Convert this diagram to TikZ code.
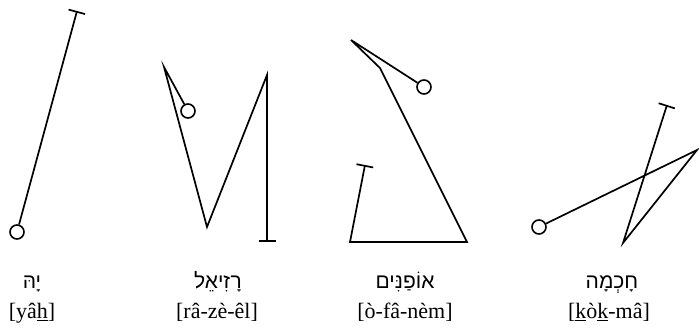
\documentclass[tikz,border=0pt]{standalone}
\usepackage{fontspec}
\setmainfont{Liberation Serif}
\newfontfamily\hebfont[Script=Hebrew]{Liberation Sans}
\TeXXeTstate=1
\usetikzlibrary{arrows.meta}
\tikzset{
  ring/.style={circle, draw, line width=1.6pt, minimum size=14pt, inner sep=0pt},
  stroke/.style={line width=1.7pt, line join=miter},
  barend/.style={stroke, -{Bar[width=17pt]}},
  barstart/.style={stroke, {Bar[width=17pt]}-},
  hebrew/.style={font=\fontsize{21}{24}\hebfont, anchor=base, inner sep=0pt},
  translit/.style={font=\fontsize{22}{26}\selectfont, anchor=base, inner sep=0pt},
}

\begin{document}
\begin{tikzpicture}[x=1pt, y=-1pt]
  \useasboundingbox (0,0) rectangle (699,328);

  % Yah
  \node[ring] (yahC) at (17,232) {};
  \coordinate (yahT) at (77,11);
  \draw[barend] (yahC) -- (yahT);

  % Raziel
  \node[ring] (razC) at (188,111) {};
  \coordinate (raz1) at (164,67);
  \coordinate (raz2) at (207,227);
  \coordinate (raz3) at (267,75);
  \coordinate (raz4) at (267,242);
  \draw[barend] (razC) -- (raz1) -- (raz2) -- (raz3) -- (raz4);

  % Ofanim
  \node[ring] (ofaC) at (424,87) {};
  \coordinate (ofa1) at (351,40);
  \coordinate (ofa2) at (380,68);
  \coordinate (ofa3) at (467,242);
  \coordinate (ofa4) at (350,242);
  \coordinate (ofaT) at (365,165);
  \draw[barend] (ofaC) -- (ofa1) -- (ofa2) -- (ofa3) -- (ofa4) -- (ofaT);

  % Chokhmah
  \node[ring] (hokC) at (539,227) {};
  \coordinate (hokT) at (667,105);
  \coordinate (hok1) at (623,243);
  \coordinate (hok2) at (697,150);
  \draw[barstart] (hokT) -- (hok1) -- (hok2) -- (hokC);

  % Names
  \node[hebrew] (yahH) at (32,289) {\beginR יָהּ\endR};
  \node[hebrew] (razH) at (218,289) {\beginR רָזִיאֵל\endR};
  \node[hebrew] (ofaH) at (405,289) {\beginR אוֹפַנִּים\endR};
  \node[hebrew] (hokH) at (612,289) {\beginR חָכְמָה\endR};

  \node[translit] (yahL) at (32,319) {[yâ\underline{h}]};
  \node[translit] (razL) at (217,319) {[râ-zè-êl]};
  \node[translit] (ofaL) at (405,319) {[ò-fâ-nèm]};
  \node[translit] (hokL) at (609,319) {[\underline{k}ò\underline{k}-mâ]};

\end{tikzpicture}
\end{document}
